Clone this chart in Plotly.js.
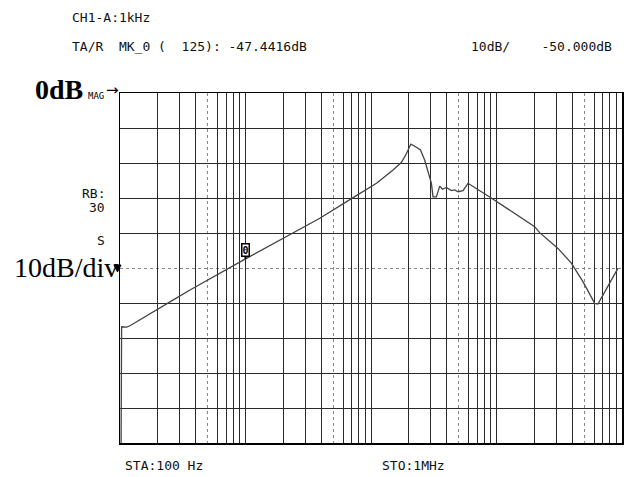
<!DOCTYPE html>
<html>
<head>
<meta charset="utf-8">
<script src="https://cdn.plot.ly/plotly-3.0.1.min.js"></script>
<style>html,body{margin:0;padding:0;background:#fff;}#chart{width:627px;height:477px;}</style>
</head>
<body>
<div id="chart"></div>
<script>
// Measured trace (frequency in Hz, magnitude in dB)
const freqHz = [102, 103, 113, 120, 266, 361, 1000, 2710, 3910, 7200, 11060, 15000, 17500, 19180, 20760, 22340, 24790, 26800, 29000, 30300, 31200, 33200, 35300, 37100, 39900, 43700, 46500, 49400, 54100, 59300, 88300, 201400, 220800, 309000, 394700, 488400, 605700, 643000, 927500];
const magDb = [-100, -66.8, -66.9, -66.5, -59.1, -56.3, -47.4, -39.0, -35.8, -29.9, -25.8, -22.0, -19.8, -17.3, -14.6, -15.2, -16.3, -19.2, -23.5, -25.8, -29.7, -29.7, -26.6, -27.5, -27.0, -27.9, -27.7, -28.2, -27.9, -25.8, -29.7, -38.2, -39.9, -44.4, -48.6, -53.9, -60.1, -60.3, -50.1];

// Axis settings
const startHz = 100, stopHz = 1e6;
const refDb = -50, dbPerDiv = 10, divisions = 10;
const markerHz = 1000, markerDb = -47.4416, markerLabel = "0";

// Header / labels
const headerLine1 = "CH1-A:1kHz";
const headerLine2 = "TA/R  MK_0 (  125): -47.4416dB";
const scaleText = "10dB/    -50.000dB";
const startText = "STA:100 Hz";
const stopText = "STO:1MHz";

// grid values
const decades = [];
for (let e = Math.log10(startHz); e < Math.log10(stopHz); e++) decades.push(Math.pow(10, e));
const xMajor = [], xFive = [];
decades.forEach(d => { for (let m = 1; m <= 10; m++) { if (m === 5) xFive.push(5 * d); else xMajor.push(m * d); } });
const yTop = refDb + dbPerDiv * divisions / 2, yBot = refDb - dbPerDiv * divisions / 2;
const yMajor = [];
for (let v = yBot; v <= yTop; v += dbPerDiv) if (v !== refDb) yMajor.push(v);

const nb = s => s.replace(/ /g, "\u00a0");
const L = 120, R = 622, T = 93, B = 443, W = R - L, H = B - T;
const px = x => (x - L) / W, py = y => (B - y) / H;
const mono = {family: "DejaVu Sans Mono", size: 13, color: "#111"};

const trace = {x: freqHz, y: magDb, type: "scatter", mode: "lines",
  line: {color: "#444", width: 1.3}, hoverinfo: "skip"};

const annotations = [
  {xref: "paper", yref: "paper", x: px(70), y: py(17), xanchor: "left", yanchor: "middle", text: nb(headerLine1), showarrow: false, font: mono},
  {xref: "paper", yref: "paper", x: px(70), y: py(47), xanchor: "left", yanchor: "middle", text: nb(headerLine2), showarrow: false, font: mono},
  {xref: "paper", yref: "paper", x: px(614), y: py(47), xanchor: "right", yanchor: "middle", text: nb(scaleText), showarrow: false, font: mono},
  {xref: "paper", yref: "paper", x: px(123), y: py(465), xanchor: "left", yanchor: "middle", text: nb(startText), showarrow: false, font: mono},
  {xref: "paper", yref: "paper", x: px(380), y: py(465), xanchor: "left", yanchor: "middle", text: nb(stopText), showarrow: false, font: mono},
  {xref: "paper", yref: "paper", x: px(107), y: py(193), xanchor: "right", yanchor: "middle", text: "RB:", showarrow: false, font: mono},
  {xref: "paper", yref: "paper", x: px(107), y: py(207), xanchor: "right", yanchor: "middle", text: "30", showarrow: false, font: mono},
  {xref: "paper", yref: "paper", x: px(107), y: py(240), xanchor: "right", yanchor: "middle", text: "S", showarrow: false, font: mono},
  {xref: "paper", yref: "paper", x: px(33), y: py(89), xanchor: "left", yanchor: "middle", text: "<b>0dB</b>", showarrow: false,
    font: {family: "Liberation Serif", size: 28, color: "#000"}},
  {xref: "paper", yref: "paper", x: px(86), y: py(96), xanchor: "left", yanchor: "middle", text: "MAG", showarrow: false,
    font: {family: "DejaVu Sans Mono", size: 9, color: "#000"}},
  {xref: "paper", yref: "paper", x: px(121), y: py(90), xanchor: "right", yanchor: "middle", text: "→", showarrow: false,
    font: {family: "DejaVu Sans", size: 15, color: "#000"}},
  {xref: "paper", yref: "paper", x: px(120), y: py(267), xanchor: "right", yanchor: "middle", text: "10dB/div", showarrow: false,
    font: {family: "Liberation Serif", size: 28, color: "#000"}},
  {xref: "x", yref: "y", x: Math.log10(markerHz), y: markerDb, text: "<b>" + markerLabel + "</b>", showarrow: true,
    arrowhead: 0, arrowwidth: 2, arrowcolor: "#000", ax: 0, ay: -9, standoff: 0,
    bordercolor: "#000", borderwidth: 1.5, borderpad: 0, bgcolor: "#fff",
    font: {family: "DejaVu Sans Mono", size: 10, color: "#000"}}
];

// small reference-level pointer at the left edge (drawn as a shape, not text)
const shapes = [
  {type: "path", xref: "paper", yref: "paper",
   path: `M ${px(114)} ${py(265)} L ${px(121)} ${py(265)} L ${px(117.5)} ${py(272)} Z`,
   fillcolor: "#000", line: {color: "#000", width: 1}}
];

const layout = {
  width: 627, height: 477,
  margin: {l: L, r: 627 - R, t: T, b: 477 - B, pad: 0},
  paper_bgcolor: "#fff", plot_bgcolor: "#fff",
  showlegend: false,
  xaxis: {type: "log", range: [Math.log10(startHz), Math.log10(stopHz)],
    tickmode: "array", tickvals: xMajor, showticklabels: false, ticks: "",
    showgrid: true, gridcolor: "#2a2a2a", gridwidth: 1, zeroline: false,
    showline: true, mirror: true, linecolor: "#000", linewidth: 1.5,
    minor: {tickmode: "array", tickvals: xFive, showgrid: true, gridcolor: "#888", griddash: "dot", gridwidth: 1, ticks: ""}},
  yaxis: {range: [yBot, yTop], tickmode: "array", tickvals: yMajor, showticklabels: false, ticks: "",
    showgrid: true, gridcolor: "#2a2a2a", gridwidth: 1, zeroline: false,
    showline: true, mirror: true, linecolor: "#000", linewidth: 1.5,
    minor: {tickmode: "array", tickvals: [refDb], showgrid: true, gridcolor: "#888", griddash: "dot", gridwidth: 1, ticks: ""}},
  annotations: annotations,
  shapes: shapes
};

Plotly.newPlot("chart", [trace], layout, {displayModeBar: false, staticPlot: true});
</script>
</body>
</html>
